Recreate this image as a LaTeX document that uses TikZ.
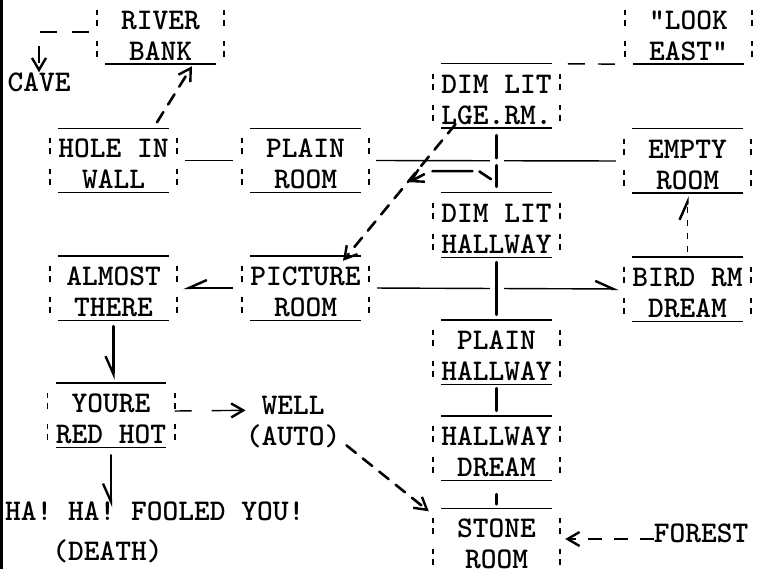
\documentclass[tikz,border=0pt]{standalone}
\usepackage{tikz}
\usetikzlibrary{arrows.meta}

\newcommand\mapfont{\fontsize{30}{31}\selectfont\ttfamily\bfseries}

\tikzset{
  typed/.style={line width=1.4pt},
  typeddash/.style={typed, dash pattern=on 17pt off 15pt},
  pen/.style={line width=2.6pt, line cap=round},
  pendash/.style={pen, dash pattern=on 12pt off 9pt},
  tip/.style={-{Straight Barb[length=12pt,width=14pt,line width=2.4pt]}},
  tipl/.style={-{Straight Barb[length=18pt,width=16pt,line width=2.4pt,harpoon]}},
  tipr/.style={-{Straight Barb[length=18pt,width=16pt,line width=2.4pt,harpoon,swap]}},
  bar/.style={line width=1.6pt, dash pattern=on 5pt off 5pt on 6pt off 15pt},
  halo/.style={preaction={draw=white, line width=14pt, solid, line cap=butt}},
  note/.style={font=\mapfont, inner sep=0pt},
  room/.style={font=\mapfont, align=center, inner sep=0pt,
    minimum width=127pt, minimum height=64pt,
    text height=56.3pt, text depth=0pt,
    append after command={
      \pgfextra{\let\roomnode\tikzlastnode}
      ([xshift=8.5pt]\roomnode.north west) edge[typed] ([xshift=-8.5pt]\roomnode.north east)
      ([xshift=8.5pt]\roomnode.south west) edge[typed] ([xshift=-8.5pt]\roomnode.south east)
      ([yshift=-10pt]\roomnode.north west) edge[bar] (\roomnode.south west)
      ([yshift=-10pt]\roomnode.north east) edge[bar] (\roomnode.south east)
    }},
}

\begin{document}
\begin{tikzpicture}[x=1pt, y=-1pt]
\useasboundingbox (0,0) rectangle (775,569);
\clip (0,0) rectangle (775,569);

% Margin rule
\draw[line width=3pt] (1.5,0) -- (1.5,569);

% Rooms
\node[room] (river) at (160.5,32) {RIVER\\BANK};
\node[room] (look) at (688.5,32) {"LOOK\\EAST"};
\node[room] (dimlge) at (496.5,96) {DIM LIT\\LGE.RM.};
\node[room] (hole) at (113.5,160.5) {HOLE IN\\WALL};
\node[room] (plainrm) at (305.5,160.5) {PLAIN\\ROOM};
\node[room] (empty) at (687.5,161) {EMPTY\\ROOM};
\node[room] (dimhall) at (496.5,225) {DIM LIT\\HALLWAY};
\node[room] (almost) at (113.5,288) {ALMOST\\THERE};
\node[room] (picture) at (305.5,288) {PICTURE\\ROOM};
\node[room] (bird) at (687.5,289) {BIRD RM\\DREAM};
\node[room] (plainhall) at (496.5,352) {PLAIN\\HALLWAY};
\node[room] (youre) at (111,415) {YOURE\\RED HOT};
\node[room] (halldream) at (496.5,448) {HALLWAY\\DREAM};
\node[room] (stone) at (496.5,540.5) {STONE\\ROOM};

% Loose labels
\node[note] (cave) at (39,82) {CAVE};
\node[note, align=center] (well) at (293,422.3) {WELL\\(AUTO)};
\node[note, align=left, anchor=west] (death) at (5,532) {HA! HA! FOOLED YOU!\\[9pt]\phantom{HA!}(DEATH)};
\node[note] (forest) at (701,533) {FOREST};

% Typed connectors
\draw[typeddash, tip, shorten <=8pt] (river.west) -| (cave.north);
\draw[typed, dash pattern=on 17pt off 13pt, shorten <=10pt, shorten >=3pt] (look.south west) -- (dimlge.north east);
\draw[typed, shorten <=8pt, shorten >=9pt] (hole.east) -- (plainrm.west);
\draw[typed, shorten <=7pt, shorten >=8pt] (plainrm.east) -- (empty.west);
\draw[typed, tipr, shorten <=9pt, shorten >=6pt] (picture.west) -- (almost.east);
\draw[typed, tipl, shorten <=8pt, shorten >=5pt] (picture.east) -- (bird.west);
\draw[typed, tipl, dash pattern=on 6pt off 7pt, shorten <=5pt, shorten >=3pt] (bird.north) -- (empty.south);
\draw[typed, tip, dash pattern=on 17pt off 20pt on 40pt] ([yshift=4pt]youre.east) -- ([yshift=12pt]well.west);
\draw[typed, tip, dash pattern=on 14pt off 12pt, shorten >=5pt] ([yshift=-6pt]forest.west) -- ([yshift=-6pt]forest.west -| stone.east);

% Pen strokes
\draw[pendash, tip] ([xshift=43.5pt,yshift=6pt]hole.north) -- ([xshift=31.5pt,yshift=-2pt]river.south);
\draw[pen, halo, dash pattern=on 23pt off 7pt on 22pt off 60pt] ([yshift=-7pt]dimlge.south) -- ([yshift=6pt]dimhall.north);
\draw[pen, tip, dash pattern=on 14pt off 7pt on 40pt off 9pt on 40pt] ([shift={(-5.5,51)}]dimlge.south) -- ++(-12,-8) -- ++(-49,0) -- ++(-21,11);
\draw[pendash, tip] ([xshift=-41pt,yshift=4pt]dimlge.south) -- ([xshift=37.5pt,yshift=-5pt]picture.north);
\draw[pen, halo] ([yshift=-5pt]dimhall.south) -- ([yshift=5pt]plainhall.north);
\draw[pen] ([yshift=-4pt]plainhall.south) -- ([yshift=5pt]halldream.north);
\draw[pen] ([yshift=-14pt]halldream.south) -- ([yshift=4pt]stone.north);
\draw[pen, tipr] ([yshift=-6pt]almost.south) -- ([yshift=3pt]almost.south |- youre.north);
\draw[pen, tipr] ([yshift=-8pt]youre.south) -- ([yshift=-6pt]youre.south |- death.north);
\draw[pendash, tip] ([xshift=6pt,yshift=3pt]well.south east) -- ([xshift=-4pt,yshift=-3pt]stone.north west);

\end{tikzpicture}
\end{document}
